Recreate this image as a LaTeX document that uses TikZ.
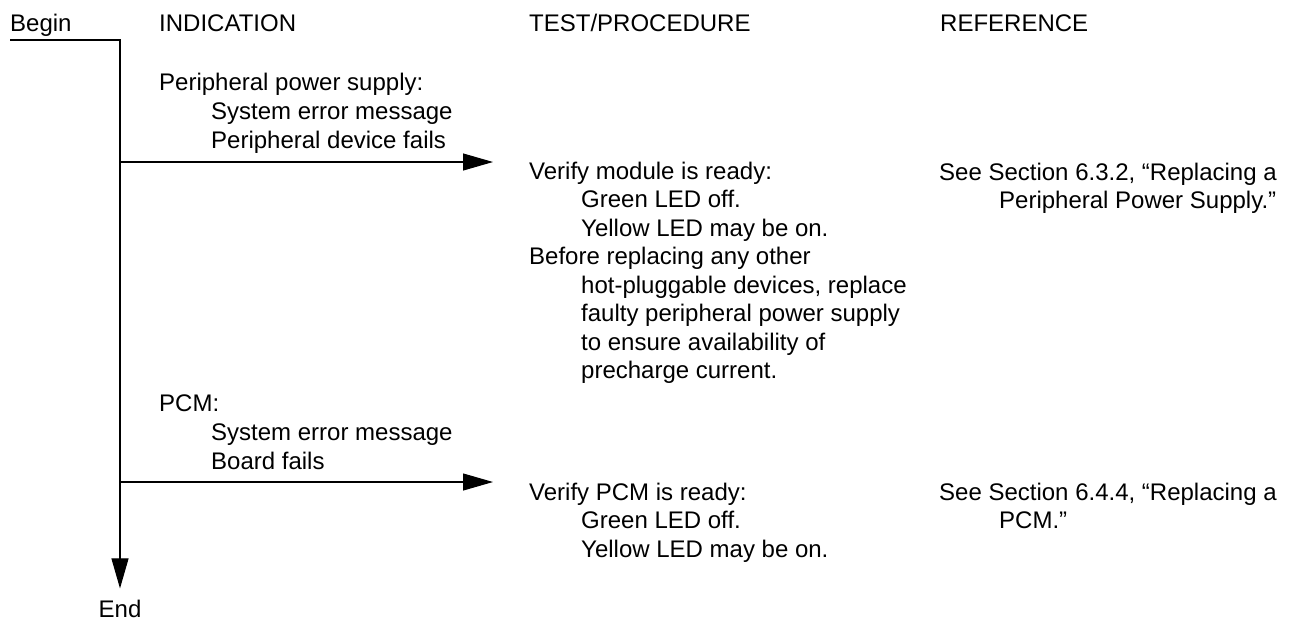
\documentclass[tikz,border=0pt]{standalone}
\usepackage{fontspec}
\setmainfont{Liberation Sans}
\usetikzlibrary{arrows.meta}

\begin{document}
\begin{tikzpicture}[x=1pt,y=-1pt,
    txt/.style={anchor=base west,inner sep=0pt,font=\fontsize{24}{28}\selectfont},
    arr/.style={-{Triangle[length=30pt,width=17pt]},line width=1.1pt}]
    \useasboundingbox (0,0) rectangle (1294,622);

    \node[txt] (begin) at (10,31) {Begin};
    \node[txt] (hind) at (159,31) {INDICATION};
    \node[txt] (htest) at (529,31) {TEST/PROCEDURE};
    \node[txt] (href) at (940,31) {REFERENCE};
    \node[txt,anchor=base] (end) at (120,617) {End};

    \coordinate (spine) at (120,40);
    \coordinate (tipa) at (493,162);
    \coordinate (tipb) at (493,482);
    \draw[arr] (begin.west |- spine) -- (spine) -- ([yshift=11pt]end.north);
    \draw[arr] (spine |- tipa) -- (tipa);
    \draw[arr] (spine |- tipb) -- (tipb);

    \node[txt] (pps) at (159,90) {Peripheral power supply:};
    \node[txt] (ppsa) at (211,119) {System error message};
    \node[txt] (ppsb) at (211,148) {Peripheral device fails};

    \node[txt] (vmod) at (529,179) {Verify module is ready:};
    \node[txt] (vmoda) at (581,207) {Green LED off.};
    \node[txt] (vmodb) at (581,236) {Yellow LED may be on.};
    \node[txt] (bef) at (529,264) {Before replacing any other};
    \node[txt] (befa) at (581,293) {hot-pluggable devices, replace};
    \node[txt] (befb) at (581,321) {faulty peripheral power supply};
    \node[txt] (befc) at (581,350) {to ensure availability of};
    \node[txt] (befd) at (581,378) {precharge current.};

    \node[txt] (refa) at (939,180) {See Section 6.3.2, ``Replacing a};
    \node[txt] (refaa) at (999,208) {Peripheral Power Supply.''};

    \node[txt] (pcm) at (159,411) {PCM:};
    \node[txt] (pcma) at (211,440) {System error message};
    \node[txt] (pcmb) at (211,469) {Board fails};

    \node[txt] (vpcm) at (529,500) {Verify PCM is ready:};
    \node[txt] (vpcma) at (581,528) {Green LED off.};
    \node[txt] (vpcmb) at (581,557) {Yellow LED may be on.};

    \node[txt] (refb) at (939,500) {See Section 6.4.4, ``Replacing a};
    \node[txt] (refba) at (999,528) {PCM.''};
\end{tikzpicture}
\end{document}
